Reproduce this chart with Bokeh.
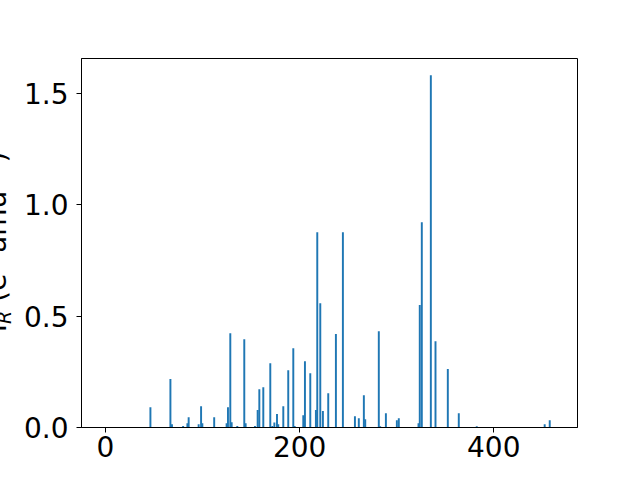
from bokeh.plotting import figure
from bokeh.models import Range1d, FixedTicker, Label, ColumnDataSource, Div
from bokeh.layouts import row
from bokeh.embed import file_html
from bokeh.resources import INLINE

frequencies = [46.3, 66.9, 68.5, 80.0, 84.4, 85.7, 96.0, 98.5, 99.8, 112.0,
               124.8, 126.2, 128.6, 130.0, 135.8, 143.0, 144.4, 154.0, 156.8, 158.5,
               162.6, 169.8, 171.9, 174.0, 176.7, 178.0, 183.2, 188.3, 193.5, 194.9,
               203.8, 205.5, 211.0, 216.8, 218.2, 221.3, 224.0, 229.5, 237.4, 244.6,
               257.0, 261.0, 266.2, 267.6, 281.6, 283.0, 288.9, 300.2, 302.2, 322.5,
               323.8, 325.9, 335.2, 340.0, 352.7, 364.0, 382.5, 452.5, 457.7]
intensities = [0.091, 0.217, 0.015, 0.007, 0.019, 0.046, 0.015, 0.095, 0.019, 0.046,
               0.019, 0.091, 0.423, 0.024, 0.007, 0.396, 0.019, 0.007, 0.078, 0.172,
               0.181, 0.288, 0.007, 0.022, 0.060, 0.015, 0.095, 0.257, 0.356, 0.007,
               0.055, 0.297, 0.243, 0.078, 0.876, 0.557, 0.074, 0.154, 0.419, 0.876,
               0.051, 0.042, 0.145, 0.037, 0.432, 0.006, 0.064, 0.033, 0.042, 0.019,
               0.549, 0.921, 1.580, 0.387, 0.262, 0.064, 0.006, 0.015, 0.033]
x_ticks = [0, 200, 400]
y_ticks = [0.0, 0.5, 1.0, 1.5]
y_tick_labels = ["0.0", "0.5", "1.0", "1.5"]
x_label = "Frequency (cm⁻¹)"

FONT = "DejaVu Sans"
source = ColumnDataSource(dict(x=frequencies, top=intensities))

LABEL_W = 20
p = figure(width=624 - LABEL_W, height=468, output_backend="svg", toolbar_location=None,
           x_range=Range1d(-24.7, 486.3), y_range=Range1d(0, 1.655),
           min_border_left=80 - LABEL_W, min_border_top=58, min_border_right=47,
           min_border_bottom=41)
p.vbar(x="x", top="top", width=2.0, bottom=0, source=source,
       fill_color="#1f77b4", line_color=None)

p.grid.visible = False
p.outline_line_color = "black"
p.outline_line_width = 1
p.outline_line_alpha = 1
p.background_fill_color = "white"
p.border_fill_color = "white"

p.xaxis.ticker = FixedTicker(ticks=x_ticks)
p.yaxis.ticker = FixedTicker(ticks=y_ticks)
p.yaxis.major_label_overrides = {t: l for t, l in zip(y_ticks, y_tick_labels)}
for ax in (p.xaxis, p.yaxis):
    ax.major_label_text_font = FONT
    ax.major_label_text_font_size = "28px"
    ax.major_label_text_color = "black"
    ax.axis_line_color = "black"
    ax.major_tick_line_color = "black"
    ax.major_tick_out = 5
    ax.major_tick_in = 0
    ax.minor_tick_line_color = None
p.xaxis.major_label_standoff = 3
p.yaxis.major_label_standoff = 8

xl = Label(x=248, y=-51, x_units="screen", y_units="screen", text=x_label,
           text_font=FONT, text_font_size="28px", text_align="center",
           text_baseline="top", text_color="black")
p.add_layout(xl)

small = "font-size:19px;position:relative;"
y_label_html = (
    '<div style="position:relative;width:20px;height:468px;overflow:visible;">'
    '<div style="position:absolute;left:-2px;top:242px;'
    'transform:translate(-50%,-50%) rotate(-90deg);white-space:nowrap;'
    "font-family:'DejaVu Sans';font-size:28px;line-height:33px;color:black;\">"
    'I<span style="' + small + 'font-style:italic;top:5px;">R</span>'
    ' (e<span style="' + small + 'top:-11px;">2</span>'
    ' amu<span style="' + small + 'top:-11px;">−1</span>)'
    '</div></div>'
)
ylab = Div(text=y_label_html, width=LABEL_W, height=468, margin=0,
           styles={"overflow": "visible"})

layout = row(ylab, p, spacing=0)
open("out.html", "w").write(file_html(layout, INLINE))
